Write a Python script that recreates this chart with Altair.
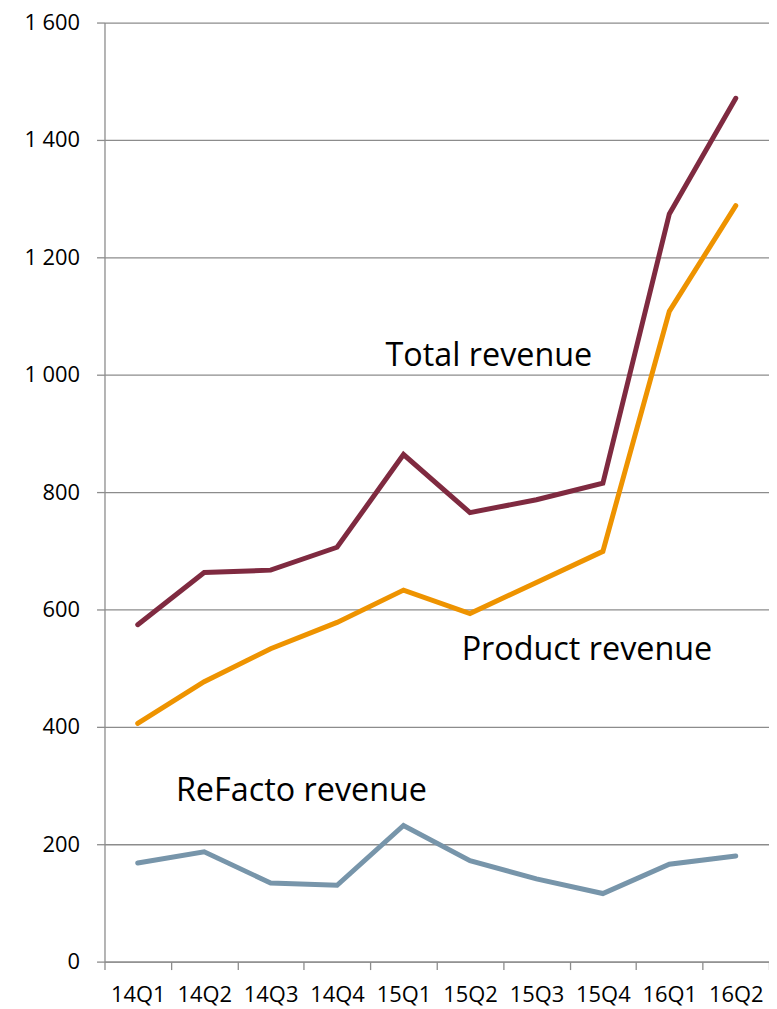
import altair as alt
import pandas as pd

quarters = ["14Q1", "14Q2", "14Q3", "14Q4", "15Q1", "15Q2", "15Q3", "15Q4", "16Q1", "16Q2"]
total = [574, 663, 667, 706, 864, 765, 787, 815, 1274, 1471]
product = [406, 477, 533, 578, 633, 593, 646, 699, 1108, 1288]
refacto = [168, 187, 134, 130, 232, 172, 141, 116, 166, 180]
series_names = ["Total revenue", "Product revenue", "ReFacto revenue"]
series_colors = ["#7F2A40", "#EE9300", "#7795AA"]
y_ticks = [0, 200, 400, 600, 800, 1000, 1200, 1400, 1600]

# annotation anchors (category + value) for the series labels
ann_quarters = ["15Q2", "15Q4", "14Q3"]
ann_values = [1015, 514, 274]

rows = []
for name, vals in zip(series_names, [total, product, refacto]):
    for q, v in zip(quarters, vals):
        rows.append({"quarter": q, "revenue": v, "series": name})
df = pd.DataFrame(rows)

ann_df = pd.DataFrame({"quarter": ann_quarters, "revenue": ann_values, "label": series_names})

GRAY = "#8C8C8C"

x_enc = alt.X(
    "quarter:N",
    sort=quarters,
    bandPosition=0.5,
    scale=alt.Scale(type="band", paddingInner=0, paddingOuter=0, domain=quarters),
    axis=alt.Axis(
        title=None, labelAngle=0, tickBand="extent", tickSize=8, grid=False,
        labelBaseline="middle", labelPadding=25,
    ),
)
y_enc = alt.Y(
    "revenue:Q",
    scale=alt.Scale(domain=[0, 1600], nice=False),
    axis=alt.Axis(
        title=None, values=y_ticks, grid=True, tickSize=8, labelPadding=17,
        labelExpr="replace(format(datum.value, ','), ',', ' ')",
    ),
)

lines = alt.Chart(df).mark_line(strokeWidth=5, strokeCap="round", strokeJoin="miter").encode(
    x=x_enc,
    y=y_enc,
    color=alt.Color("series:N", scale=alt.Scale(domain=series_names, range=series_colors), legend=None),
    detail="series:N",
)

offsets = [19, -16, 31]
texts = []
for lab, dx in zip(series_names, offsets):
    texts.append(
        alt.Chart(ann_df[ann_df["label"] == lab]).mark_text(
            font="Open Sans", fontSize=32.5, color="black", align="center", baseline="alphabetic", dx=dx
        ).encode(
            x=alt.X("quarter:N", sort=quarters, bandPosition=0.5),
            y=alt.Y("revenue:Q"),
            text="label:N",
        )
    )

chart = alt.layer(lines, *texts).properties(
    width=668,
    height=944,
    autosize=alt.AutoSizeParams(type="none"),
    padding={"left": 97, "top": 12, "right": 0, "bottom": 44},
    background="white",
).configure_view(stroke=None).configure_axis(
    domainColor=GRAY, tickColor=GRAY, gridColor=GRAY,
    domainWidth=1.3, tickWidth=1.3, gridWidth=1.3,
    labelFont="Open Sans", labelFontSize=22, labelColor="black",
)

chart.save("out.html", embed_options={"renderer": "svg", "actions": False})
